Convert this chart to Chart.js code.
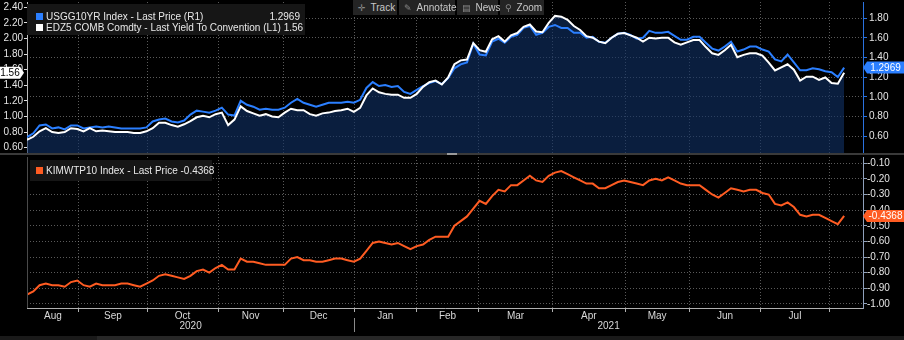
<!DOCTYPE html>
<html>
<head>
<meta charset="utf-8">
<script src="https://cdn.jsdelivr.net/npm/chart.js@4.4.0/dist/chart.umd.min.js"></script>
<style>
  html, body { margin: 0; padding: 0; background: #000; }
  #wrap { position: relative; width: 904px; height: 340px; background: #000; overflow: hidden;
          font-family: "Liberation Sans", Arial, sans-serif; }
  canvas { position: absolute; left: 0; }
  #top { top: 0; }
  #bot { top: 155px; }
  .box { position: absolute; background: #161616; color: #e8e8e8; font-size: 10px; }
  .row { position: absolute; left: 0; right: 0; height: 11px; line-height: 11px; white-space: nowrap; }
  .sw { position: absolute; left: 9px; top: 2px; width: 7px; height: 7px; }
  .txt { position: absolute; left: 19px; }
  .val { position: absolute; right: 5px; }
  .btn { position: absolute; top: 0; height: 15px; line-height: 15px; background: #242424; color: #c8c8c8;
         font-size: 10px; white-space: nowrap; }
  .btn i { font-style: normal; color: #8a8a8a; font-family: "DejaVu Sans", sans-serif; font-size: 9px; margin: 0 5px 0 5px; }
  .sep { position: absolute; left: 0; top: 153px; width: 904px; height: 2px; background: #3a3a3a; }
  .grip { position: absolute; left: 447px; top: 153px; width: 10px; height: 2px; background: #9a9a9a; }
  .foot { position: absolute; left: 0; top: 336px; width: 904px; height: 4px; background: #1a1a1a; }
  .foot span { position: absolute; left: 97px; width: 403px; top: 0; height: 4px; background: #272727; }
</style>
</head>
<body>
<div id="wrap">
  <canvas id="top" width="904" height="155"></canvas>
  <canvas id="bot" width="904" height="185"></canvas>
  <div class="sep"></div><div class="grip"></div>
  <div class="foot"><span></span></div>

  <div class="btn" style="left:353px;width:44px"><i>✛</i>Track</div>
  <div class="btn" style="left:399px;width:56px"><i>✎</i>Annotate</div>
  <div class="btn" style="left:457px;width:41px"><i>▤</i>News</div>
  <div class="btn" style="left:500px;width:44px"><i>⚲</i>Zoom</div>

  <div class="box" id="legTop" style="left:27px;top:4px;width:278px;height:31px"></div>
  <div class="box" id="legBot" style="left:30px;top:160px;width:182px;height:21px"></div>
</div>
<script>
// weekday index since 7 Aug 2020, one sample every two days
const dayStep = 2;
const xMax = 266;

// first weekday of each month, Sep 2020 .. Aug 2021
const monthStarts = [16.5, 38.2, 60.8, 81.5, 104.1, 123.9, 143.7, 167.2, 190.3, 210.7, 233.5, 255.2];
const monthNames = ['Aug', 'Sep', 'Oct', 'Nov', 'Dec', 'Jan', 'Feb', 'Mar', 'Apr', 'May', 'Jun', 'Jul'];
const yearNames = ['2020', '2021'];
const yearSplit = 104.1;

// USGG10YR Index - Last Price (right axis, top panel)
const usgg10yr = [
  0.59, 0.63, 0.71, 0.72, 0.68, 0.69, 0.67, 0.71, 0.71, 0.68,
  0.69, 0.70, 0.69, 0.70, 0.69, 0.68, 0.68, 0.68, 0.68, 0.69,
  0.75, 0.77, 0.78, 0.75, 0.74, 0.76, 0.82, 0.86, 0.85, 0.84,
  0.86, 0.89, 0.82, 0.81, 0.96, 0.92, 0.90, 0.87, 0.88, 0.87,
  0.87, 0.89, 0.94, 0.98, 0.94, 0.92, 0.90, 0.92, 0.94, 0.94,
  0.94, 0.95, 0.94, 0.97, 1.09, 1.15, 1.11, 1.12, 1.10, 1.11,
  1.05, 1.03, 1.07, 1.11, 1.14, 1.16, 1.13, 1.19, 1.29, 1.33,
  1.35, 1.54, 1.43, 1.42, 1.56, 1.59, 1.55, 1.61, 1.63, 1.70,
  1.72, 1.63, 1.65, 1.71, 1.73, 1.70, 1.70, 1.65, 1.65, 1.60,
  1.61, 1.56, 1.55, 1.60, 1.64, 1.65, 1.63, 1.59, 1.60, 1.67,
  1.65, 1.65, 1.66, 1.62, 1.58, 1.58, 1.61, 1.61, 1.55, 1.49,
  1.47, 1.51, 1.56, 1.46, 1.48, 1.51, 1.51, 1.48, 1.46, 1.38,
  1.36, 1.43, 1.35, 1.27, 1.27, 1.29, 1.28, 1.26, 1.25, 1.20,
  1.2969
];

// EDZ5 COMB Comdty - Last Yield To Convention (left axis, top panel)
const edz5Yield = [
  0.70, 0.74, 0.81, 0.85, 0.80, 0.79, 0.80, 0.85, 0.84, 0.81,
  0.85, 0.81, 0.82, 0.81, 0.80, 0.80, 0.80, 0.79, 0.79, 0.81,
  0.85, 0.92, 0.92, 0.89, 0.87, 0.90, 0.94, 0.99, 1.01, 0.99,
  1.03, 1.05, 0.89, 0.96, 1.13, 1.07, 1.04, 1.01, 1.03, 1.00,
  0.99, 1.05, 1.10, 1.08, 1.08, 1.03, 1.01, 1.04, 1.05, 1.07,
  1.08, 1.10, 1.06, 1.11, 1.27, 1.36, 1.31, 1.29, 1.28, 1.28,
  1.24, 1.24, 1.29, 1.38, 1.44, 1.46, 1.41, 1.50, 1.67, 1.72,
  1.73, 1.94, 1.85, 1.83, 1.99, 2.03, 1.96, 2.04, 2.07, 2.15,
  2.18, 2.09, 2.08, 2.20, 2.29, 2.28, 2.24, 2.16, 2.11, 2.03,
  2.01, 1.96, 1.94, 2.01, 2.06, 2.07, 2.04, 2.01, 1.96, 2.01,
  2.00, 2.01, 2.01, 1.95, 1.92, 1.95, 1.98, 1.98, 1.89, 1.81,
  1.79, 1.85, 1.92, 1.76, 1.79, 1.81, 1.81, 1.78, 1.69, 1.59,
  1.63, 1.67, 1.60, 1.46, 1.51, 1.51, 1.47, 1.50, 1.43, 1.42,
  1.56
];

// KIMWTP10 Index - Last Price (bottom panel)
const kimwtp10 = [
  -0.94, -0.92, -0.88, -0.87, -0.88, -0.88, -0.89, -0.86, -0.85, -0.88,
  -0.89, -0.87, -0.88, -0.88, -0.88, -0.87, -0.87, -0.88, -0.89, -0.87,
  -0.85, -0.82, -0.81, -0.82, -0.83, -0.84, -0.82, -0.79, -0.78, -0.80,
  -0.77, -0.75, -0.78, -0.78, -0.71, -0.73, -0.73, -0.74, -0.75, -0.75,
  -0.75, -0.75, -0.71, -0.70, -0.72, -0.72, -0.73, -0.73, -0.72, -0.71,
  -0.71, -0.72, -0.73, -0.71, -0.66, -0.61, -0.60, -0.61, -0.62, -0.61,
  -0.63, -0.65, -0.63, -0.62, -0.59, -0.57, -0.57, -0.57, -0.50, -0.47,
  -0.44, -0.39, -0.34, -0.36, -0.31, -0.27, -0.28, -0.24, -0.24, -0.21,
  -0.18, -0.21, -0.22, -0.18, -0.16, -0.15, -0.17, -0.19, -0.21, -0.23,
  -0.23, -0.26, -0.26, -0.24, -0.22, -0.21, -0.22, -0.23, -0.24, -0.21,
  -0.20, -0.21, -0.19, -0.21, -0.23, -0.24, -0.24, -0.24, -0.27, -0.30,
  -0.32, -0.29, -0.26, -0.27, -0.28, -0.27, -0.27, -0.29, -0.30, -0.36,
  -0.37, -0.35, -0.38, -0.43, -0.44, -0.43, -0.43, -0.45, -0.47, -0.49,
  -0.4368
];

const leftTicks = [0.6, 0.8, 1.0, 1.2, 1.4, 1.6, 1.8, 2.0, 2.2, 2.4];
const rightTicks = [0.6, 0.8, 1.0, 1.2, 1.4, 1.6, 1.8];
const lowerTicks = [-1.0, -0.9, -0.8, -0.7, -0.6, -0.5, -0.4, -0.3, -0.2, -0.1];

const FONT = '"Liberation Sans", Arial, sans-serif';
const BLUE = '#2b7fff';
const ORANGE = '#ff5c22';
const GRID = 'rgba(150,150,150,0.6)';
const TICK_TXT = '#e4e4e4';

const last = a => a[a.length - 1];
const toPoints = a => a.map((v, i) => ({ x: i * dayStep, y: v }));
const setTicks = list => s => { s.ticks = list.map(v => ({ value: v })); };
// fixed axis width, and no extra room for the end labels
const fixWidth = w => s => { s.width = w; s.paddingTop = 0; s.paddingBottom = 0; };

// legends
document.getElementById('legTop').innerHTML =
  '<div class="row" style="top:7px"><span class="sw" style="background:' + BLUE + '"></span>' +
  '<span class="txt">USGG10YR Index - Last Price (R1)</span><span class="val">' + last(usgg10yr) + '</span></div>' +
  '<div class="row" style="top:18px"><span class="sw" style="background:#fff"></span>' +
  '<span class="txt">EDZ5 COMB Comdty - Last Yield To Convention (L1) ' + last(edz5Yield) + '</span></div>';
document.getElementById('legBot').innerHTML =
  '<div class="row" style="top:5px"><span class="sw" style="left:6px;background:' + ORANGE + '"></span>' +
  '<span class="txt" style="left:16px">KIMWTP10 Index - Last Price ' + last(kimwtp10) + '</span></div>';

// value flag pinned to an axis
function drawFlag(ctx, tipX, y, w, text, bg, fg, toRight) {
  const h = 12, notch = 4;
  const dir = toRight ? 1 : -1;
  ctx.save();
  ctx.fillStyle = bg;
  ctx.beginPath();
  ctx.moveTo(tipX, y);
  ctx.lineTo(tipX + dir * notch, y - h / 2);
  ctx.lineTo(tipX + dir * (notch + w), y - h / 2);
  ctx.lineTo(tipX + dir * (notch + w), y + h / 2);
  ctx.lineTo(tipX + dir * notch, y + h / 2);
  ctx.closePath();
  ctx.fill();
  ctx.fillStyle = fg;
  ctx.font = '10px ' + FONT;
  ctx.textBaseline = 'middle';
  ctx.textAlign = 'center';
  ctx.fillText(text, tipX + dir * (notch + w / 2), y + 0.5);
  ctx.restore();
}

const topFlags = {
  id: 'topFlags',
  afterDraw(chart) {
    const { ctx, chartArea, scales } = chart;
    const vR = last(usgg10yr), vL = last(edz5Yield);
    drawFlag(ctx, chartArea.right, scales.yR.getPixelForValue(vR), 37, String(vR), BLUE, '#fff', true);
    drawFlag(ctx, chartArea.left - 3, scales.yL.getPixelForValue(vL), 20, String(vL), '#fff', '#000', false);
  }
};

const bottomDecor = {
  id: 'bottomDecor',
  afterDraw(chart) {
    const { ctx, chartArea, scales } = chart;
    const x = scales.x, b = chartArea.bottom;
    ctx.save();
    // left frame of the panel
    ctx.strokeStyle = '#4a4a4a';
    ctx.beginPath();
    ctx.moveTo(chartArea.left + 0.5, chartArea.top);
    ctx.lineTo(chartArea.left + 0.5, b);
    ctx.stroke();
    // month names centred in each month
    ctx.font = '10px ' + FONT;
    ctx.fillStyle = '#d8d8d8';
    ctx.textAlign = 'center';
    ctx.textBaseline = 'middle';
    const edges = [x.min].concat(monthStarts);
    monthNames.forEach((m, i) => {
      ctx.fillText(m, x.getPixelForValue((edges[i] + edges[i + 1]) / 2), b + 8);
    });
    // year row with divider
    ctx.fillText(yearNames[0], x.getPixelForValue((x.min + yearSplit) / 2), b + 18.5);
    ctx.fillText(yearNames[1], x.getPixelForValue((yearSplit + x.max) / 2), b + 18.5);
    const sx = Math.round(x.getPixelForValue(yearSplit)) + 0.5;
    ctx.strokeStyle = '#8a8a8a';
    ctx.beginPath();
    ctx.moveTo(sx, b + 10);
    ctx.lineTo(sx, b + 24);
    ctx.stroke();
    drawFlag(ctx, chartArea.right, scales.y.getPixelForValue(last(kimwtp10)), 37,
      String(last(kimwtp10)), ORANGE, '#fff', true);
    ctx.restore();
  }
};

const monthAxis = (withLabels) => ({
  type: 'linear', min: 0, max: xMax,
  afterBuildTicks: setTicks(monthStarts),
  afterFit: s => { s.height = withLabels ? 32 : 0; s.paddingLeft = 0; s.paddingRight = 0; },
  ticks: { display: false },
  grid: { color: GRID, drawTicks: withLabels, tickLength: 4, tickColor: '#b0b0b0', tickBorderDash: [] },
  border: { display: withLabels, color: '#b0b0b0', dash: [1, 2] }
});

new Chart(document.getElementById('top'), {
  type: 'line',
  data: {
    datasets: [
      {
        label: 'EDZ5 COMB Comdty', data: toPoints(edz5Yield), yAxisID: 'yL',
        borderColor: '#ffffff', borderWidth: 2, pointRadius: 0, tension: 0,
        fill: 'start', backgroundColor: 'rgba(16,48,100,0.62)', order: 0
      },
      {
        label: 'USGG10YR Index', data: toPoints(usgg10yr), yAxisID: 'yR',
        borderColor: BLUE, borderWidth: 2, pointRadius: 0, tension: 0, fill: false, order: 1
      }
    ]
  },
  options: {
    responsive: false, animation: false,
    layout: { padding: { top: 2, bottom: 2, left: 0, right: 0 } },
    plugins: { legend: { display: false }, tooltip: { enabled: false }, filler: { drawTime: 'beforeDatasetsDraw' } },
    scales: {
      x: monthAxis(false),
      yL: {
        position: 'left', min: 0.532, max: 2.468,
        afterBuildTicks: setTicks(leftTicks),
        afterFit: fixWidth(27),
        ticks: { color: TICK_TXT, font: { family: FONT, size: 10 }, padding: 1, callback: v => v.toFixed(2) },
        grid: { drawOnChartArea: false, drawTicks: true, tickLength: 3, tickColor: '#e0e0e0' },
        border: { display: true, color: '#bdbdbd' }
      },
      yR: {
        position: 'right', min: 0.43, max: 1.963,
        afterBuildTicks: setTicks(rightTicks),
        afterFit: fixWidth(41),
        ticks: { color: TICK_TXT, font: { family: FONT, size: 10 }, padding: 2, callback: v => v.toFixed(2) },
        grid: { color: GRID, drawTicks: true, tickLength: 4, tickColor: '#2a72e0', tickBorderDash: [] },
        border: { display: true, color: '#2a72e0', dash: [1, 2] }
      }
    }
  },
  plugins: [topFlags]
});

new Chart(document.getElementById('bot'), {
  type: 'line',
  data: {
    datasets: [{
      label: 'KIMWTP10 Index', data: toPoints(kimwtp10), yAxisID: 'y',
      borderColor: ORANGE, borderWidth: 2, pointRadius: 0, tension: 0, fill: false
    }]
  },
  options: {
    responsive: false, animation: false,
    layout: { padding: { top: 2, bottom: 0, left: 27, right: 0 } },
    plugins: { legend: { display: false }, tooltip: { enabled: false } },
    scales: {
      x: monthAxis(true),
      y: {
        position: 'right', min: -1.026, max: -0.06,
        afterBuildTicks: setTicks(lowerTicks),
        afterFit: fixWidth(41),
        ticks: { color: TICK_TXT, font: { family: FONT, size: 10 }, padding: 0, callback: v => v.toFixed(2) },
        grid: { color: GRID, drawTicks: true, tickLength: 4, tickColor: '#8fa0bb', tickBorderDash: [] },
        border: { display: true, color: '#8fa0bb', dash: [1, 2] }
      }
    }
  },
  plugins: [bottomDecor]
});
</script>
</body>
</html>
